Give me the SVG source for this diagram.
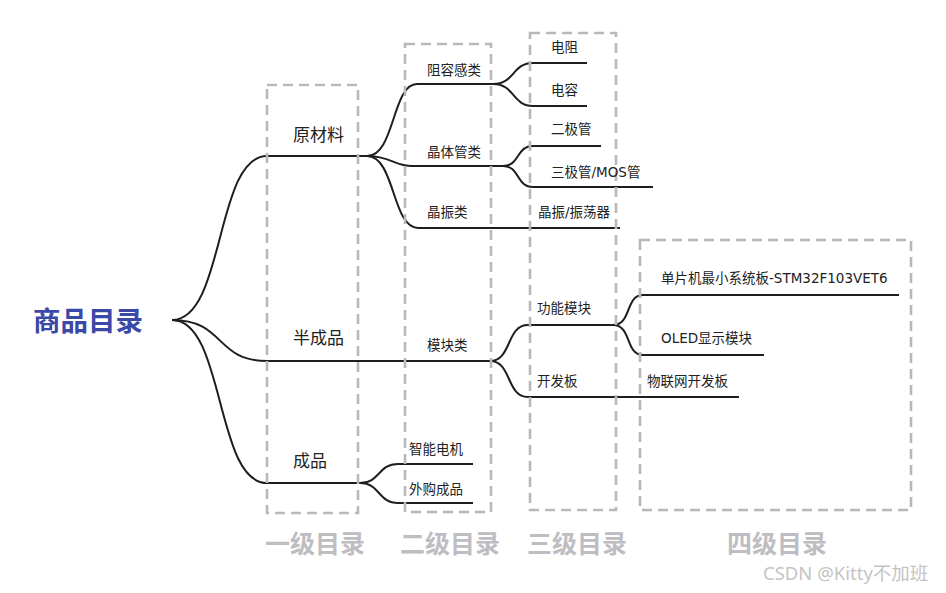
<svg xmlns="http://www.w3.org/2000/svg" width="946" height="593" viewBox="0 0 946 593">
<style>
.c{fill:none;stroke:#1e1e1e;stroke-width:2}
.box{fill:none;stroke:#b8b8bc;stroke-width:2.6;stroke-dasharray:10 6}
.t{font-family:"DejaVu Sans","Noto Sans CJK SC",sans-serif;fill:#222}
.l1{font-size:17px}
.l2{font-size:13.5px}
.cat{font-family:"Noto Sans CJK SC",sans-serif;font-size:25px;font-weight:bold;fill:#bdbdc2}
</style>
<rect width="946" height="593" fill="#ffffff"/>
<g id="connectors">
<path class="c" d="M172,320 C225,320 215,156 267,156 L367,156"/>
<path class="c" d="M172,320 C225,320 215,361 267,361 L490,361"/>
<path class="c" d="M172,320 C225,320 215,483 267,483 L360,483"/>
<path class="c" d="M367,156 C395,156 392,84 417,84 L493,84"/>
<path class="c" d="M367,156 C390,156 395,166 412,166 L503,166"/>
<path class="c" d="M367,156 C395,156 392,228 418,228 L620,228"/>
<path class="c" d="M493,84 C515,84 512,63 533,63 L587,63"/>
<path class="c" d="M493,84 C515,84 512,106 533,106 L587,106"/>
<path class="c" d="M503,166 C520,166 516,146 533,146 L601,146"/>
<path class="c" d="M503,166 C520,166 516,187 533,187 L653,187"/>
<path class="c" d="M490,361 C512,361 506,325 528,325 L613,325"/>
<path class="c" d="M490,361 C512,361 506,397 528,397 L739,397"/>
<path class="c" d="M613,325 C632,325 625,295 643,295 L899,295"/>
<path class="c" d="M613,325 C632,325 625,355 643,355 L764,355"/>
<path class="c" d="M360,483 C380,483 378,464 398,464 L473,464"/>
<path class="c" d="M360,483 C380,483 378,503 398,503 L473,503"/>
</g>
<g id="boxes">
<rect class="box" x="267" y="85" width="91" height="428"/>
<rect class="box" x="405" y="44" width="86" height="468"/>
<rect class="box" x="530" y="33" width="86" height="477"/>
<rect class="box" x="640" y="240" width="271" height="270"/>
</g>
<g id="root"><text x="33" y="331" font-family="Noto Sans CJK SC,sans-serif" font-size="27.5" font-weight="bold" fill="#3a48a8">商品目录</text></g>
<g id="n-yuancailiao"><text class="t l1" x="293" y="141">原材料</text></g>
<g id="n-banchengpin"><text class="t l1" x="293" y="344">半成品</text></g>
<g id="n-chengpin"><text class="t l1" x="293" y="467">成品</text></g>
<g id="n-zurong"><text class="t l2" x="427" y="75">阻容感类</text></g>
<g id="n-jingti"><text class="t l2" x="427" y="157">晶体管类</text></g>
<g id="n-jingzhen"><text class="t l2" x="427" y="217">晶振类</text></g>
<g id="n-mokuai"><text class="t l2" x="427" y="350">模块类</text></g>
<g id="n-zhineng"><text class="t l2" x="409" y="454">智能电机</text></g>
<g id="n-waigou"><text class="t l2" x="409" y="494">外购成品</text></g>
<g id="n-dianzu"><text class="t l2" x="551" y="52">电阻</text></g>
<g id="n-dianrong"><text class="t l2" x="551" y="95">电容</text></g>
<g id="n-erjiguan"><text class="t l2" x="551" y="134">二极管</text></g>
<g id="n-sanjiguan"><text class="t l2" x="551" y="177">三极管/MOS管</text></g>
<g id="n-zhendangqi"><text class="t l2" x="538" y="217">晶振/振荡器</text></g>
<g id="n-gongneng"><text class="t l2" x="537" y="313">功能模块</text></g>
<g id="n-kaifaban"><text class="t l2" x="537" y="386">开发板</text></g>
<g id="n-danpianji"><text class="t l2" x="661" y="283">单片机最小系统板-STM32F103VET6</text></g>
<g id="n-oled"><text class="t l2" x="661" y="343">OLED显示模块</text></g>
<g id="n-wulianwang"><text class="t l2" x="647" y="386">物联网开发板</text></g>
<g id="categories">
<text class="cat" x="265" y="553">一级目录</text>
<text class="cat" x="400" y="553">二级目录</text>
<text class="cat" x="527" y="553">三级目录</text>
<text class="cat" x="727" y="553">四级目录</text>
</g>
<text x="763" y="580" font-family="Noto Sans,Noto Sans CJK SC,sans-serif" font-size="18.5" fill="#c4c4c4">CSDN @Kitty不加班</text>
</svg>
